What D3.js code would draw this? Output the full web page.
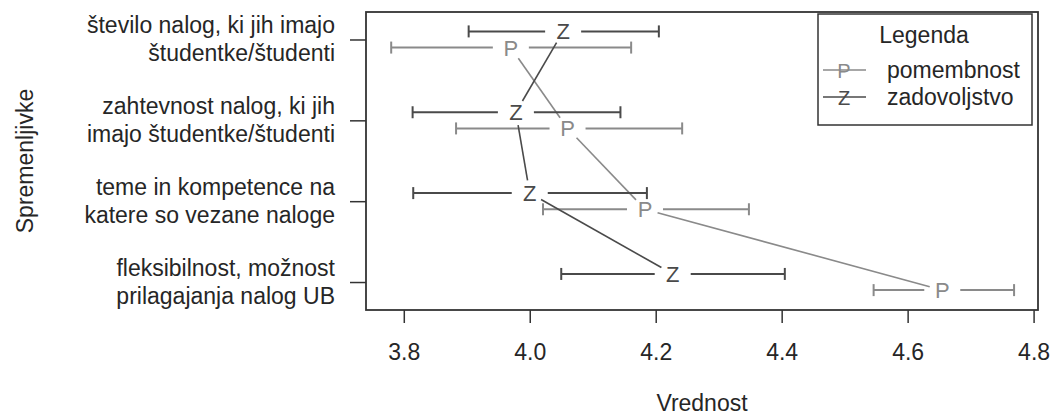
<!DOCTYPE html>
<html>
<head>
<meta charset="utf-8">
<script src="https://cdn.jsdelivr.net/npm/d3@7"></script>
<style>
  body { margin: 0; background: #fff; }
  text { font-family: "Liberation Sans", Arial, sans-serif; }
</style>
</head>
<body>
<div class="chart"></div>
<script>
// kategorije (od zgoraj navzdol), vsaka v dveh vrsticah
const categories = [
  ["število nalog, ki jih imajo", "študentke/študenti"],
  ["zahtevnost nalog, ki jih", "imajo študentke/študenti"],
  ["teme in kompetence na", "katere so vezane naloge"],
  ["fleksibilnost, možnost", "prilagajanja nalog UB"]
]
const catPos = [4, 3, 2, 1]
// pomembnost (P)
const pomembnost = [3.970, 4.060, 4.183, 4.655]
const pomLo = [3.780, 3.883, 4.021, 4.546]
const pomHi = [4.161, 4.242, 4.348, 4.769]
// zadovoljstvo (Z)
const zadovoljstvo = [4.053, 3.978, 4.000, 4.227]
const zadLo = [3.903, 3.814, 3.815, 4.050]
const zadHi = [4.205, 4.144, 4.186, 4.405]
const xTicks = [3.8, 4.0, 4.2, 4.4, 4.6, 4.8]

let width = 1053, height = 415
let pLeft = 366, pRight = 1038, pTop = 12, pBottom = 310
let fs = 23

let svg = d3.select(".chart").append("svg")
  .attr("width", width)
  .attr("height", height)

let x = d3.scaleLinear().domain([3.74, 4.807]).range([pLeft, pRight])
let y = d3.scaleLinear().domain([0.654, 4.34]).range([pBottom, pTop])

const colP = "#8a8a8a", colZ = "#4a4a4a", colText = "#262626"

let series = [
  { key: "P", color: colP, off: -0.1, vals: pomembnost, lo: pomLo, hi: pomHi },
  { key: "Z", color: colZ, off: 0.1, vals: zadovoljstvo, lo: zadLo, hi: zadHi }
]

// osi
let xAxis = svg.append("g")
  .attr("transform", `translate(0,${pBottom})`)
  .call(d3.axisBottom(x).tickValues(xTicks).tickFormat(d3.format(".1f")).tickSize(13).tickPadding(21))
xAxis.select(".domain").remove()
xAxis.selectAll("line").attr("stroke", "#333").attr("stroke-width", 1.5)
xAxis.selectAll("text").attr("font-size", fs).attr("fill", colText)
  .attr("font-family", "Liberation Sans, Arial, sans-serif")

let yAxis = svg.append("g")
  .attr("transform", `translate(${pLeft},0)`)
  .call(d3.axisLeft(y).tickValues(catPos).tickFormat("").tickSize(16))
yAxis.select(".domain").remove()
yAxis.selectAll("line").attr("stroke", "#333").attr("stroke-width", 1.5)

// imena kategorij
categories.forEach((lines, i) => {
  let t = svg.append("text")
    .attr("text-anchor", "end")
    .attr("font-size", fs)
    .attr("fill", colText)
  lines.forEach((ln, j) => {
    t.append("tspan")
      .attr("x", 335)
      .attr("y", y(catPos[i]) + (j === 0 ? -14 : 14) + 8)
      .text(ln)
  })
})

// okvir
svg.append("rect")
  .attr("x", pLeft).attr("y", pTop)
  .attr("width", pRight - pLeft).attr("height", pBottom - pTop)
  .attr("fill", "none").attr("stroke", "#333").attr("stroke-width", 1.8)

// naslova osi
svg.append("text")
  .attr("x", (pLeft + pRight) / 2).attr("y", 411)
  .attr("text-anchor", "middle").attr("font-size", fs).attr("fill", colText)
  .text("Vrednost")
svg.append("text")
  .attr("transform", `translate(33,${(pTop + pBottom) / 2}) rotate(-90)`)
  .attr("text-anchor", "middle").attr("font-size", fs).attr("fill", colText)
  .text("Spremenljivke")

let gap = 18, lineGap = 13
let g = svg.append("g")
series.forEach(s => {
  let pts = s.vals.map((v, i) => ({ px: x(v), py: y(catPos[i] + s.off), lo: x(s.lo[i]), hi: x(s.hi[i]) }))
  //povezovalne črte z luknjo okoli črk
  for (let i = 0; i < pts.length - 1; i++) {
    let a = pts[i], b = pts[i + 1]
    let dx = b.px - a.px, dy = b.py - a.py, len = Math.sqrt(dx * dx + dy * dy)
    g.append("line")
      .attr("x1", a.px + dx / len * lineGap).attr("y1", a.py + dy / len * lineGap)
      .attr("x2", b.px - dx / len * lineGap).attr("y2", b.py - dy / len * lineGap)
      .attr("stroke", s.color).attr("stroke-width", 1.6)
  }
  pts.forEach(p => {
    // intervali
    [[p.lo, p.px - gap], [p.px + gap, p.hi]].forEach(seg => {
      if (seg[1] > seg[0]) {
        g.append("line")
          .attr("x1", seg[0]).attr("x2", seg[1])
          .attr("y1", p.py).attr("y2", p.py)
          .attr("stroke", s.color).attr("stroke-width", 2)
      }
    })
    ;[p.lo, p.hi].forEach(cx => {
      g.append("line")
        .attr("x1", cx).attr("x2", cx)
        .attr("y1", p.py - 6).attr("y2", p.py + 6)
        .attr("stroke", s.color).attr("stroke-width", 2)
    })
    g.append("text")
      .attr("x", p.px).attr("y", p.py + 8)
      .attr("text-anchor", "middle")
      .attr("font-size", 22)
      .attr("fill", s.color)
      .text(s.key)
  })
})

// legenda
let leg = svg.append("g")
leg.append("rect")
  .attr("x", 818).attr("y", 14).attr("width", 214).attr("height", 111)
  .attr("fill", "#fff").attr("stroke", "#333").attr("stroke-width", 1.5)
leg.append("text")
  .attr("x", 924).attr("y", 43).attr("text-anchor", "middle")
  .attr("font-size", fs).attr("fill", colText)
  .text("Legenda")
let legItems = [
  { key: "P", color: colP, name: "pomembnost", yy: 70 },
  { key: "Z", color: colZ, name: "zadovoljstvo", yy: 97 }
]
legItems.forEach(d => {
  leg.append("line")
    .attr("x1", 823).attr("x2", 866).attr("y1", d.yy).attr("y2", d.yy)
    .attr("stroke", d.color).attr("stroke-width", 1.6)
  leg.append("text")
    .attr("x", 844).attr("y", d.yy + 7.5).attr("text-anchor", "middle")
    .attr("font-size", 20).attr("fill", d.color)
    .text(d.key)
  leg.append("text")
    .attr("x", 887).attr("y", d.yy + 8)
    .attr("font-size", fs).attr("fill", colText)
    .text(d.name)
})
</script>
</body>
</html>
